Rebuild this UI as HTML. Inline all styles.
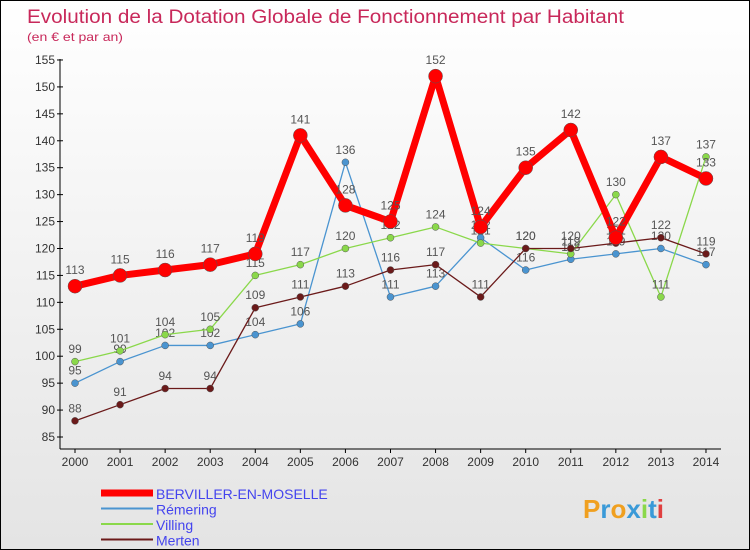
<!DOCTYPE html>
<html><head><meta charset="utf-8"><style>
body{margin:0}
#c{width:748px;height:548px;border:1px solid #000;position:relative;background:linear-gradient(#fff,#e4e4e4);font-family:"Liberation Sans",sans-serif;overflow:hidden}
</style></head><body>
<div id="c">
<svg id="s" width="748" height="548">
<text x="26" y="22" font-size="19" fill="#c8285a" textLength="597" lengthAdjust="spacingAndGlyphs">Evolution de la Dotation Globale de Fonctionnement par Habitant</text>
<text x="26" y="40" font-size="12" fill="#c8285a" textLength="96" lengthAdjust="spacingAndGlyphs">(en € et par an)</text>
</svg>
</div>
<script>
const years=[2000,2001,2002,2003,2004,2005,2006,2007,2008,2009,2010,2011,2012,2013,2014];
const berviller=[113,115,116,117,119,141,128,125,152,124,135,142,122,137,133];
const remering=[95,99,102,102,104,106,136,111,113,122,116,118,119,120,117];
const villing=[99,101,104,105,115,117,120,122,124,121,120,119,130,111,137];
const merten=[88,91,94,94,109,111,113,116,117,111,120,120,121,122,119];
const yTicks=[85,90,95,100,105,110,115,120,125,130,135,140,145,150,155];
const s=document.getElementById('s');const NS='http://www.w3.org/2000/svg';
const X=i=>74+i*45.07, Y=v=>436-(v-85)*5.386;
function mk(t,a,p){const e=document.createElementNS(NS,t);for(const k in a)e.setAttribute(k,a[k]);(p||s).appendChild(e);return e;}
let ax=mk('line',{x1:59,y1:58,x2:59,y2:448,stroke:'#000'});


let bx=mk('line',{x1:59,y1:448,x2:720,y2:448,stroke:'#000'});


yTicks.forEach(v=>{mk('line',{x1:56,y1:Y(v),x2:62,y2:Y(v),stroke:'#000'});
const t=mk('text',{x:54,y:Y(v)+4,'text-anchor':'end','font-size':12,fill:'#333'});t.textContent=v;

});
years.forEach((y,i)=>{mk('line',{x1:X(i),y1:448,x2:X(i),y2:452,stroke:'#000'});
const t=mk('text',{x:X(i),y:465,'text-anchor':'middle','font-size':12,fill:'#333'});t.textContent=y;

});
function series(d,col,w,r,name){
const g=mk('g',{});


mk('polyline',{points:d.map((v,i)=>X(i)+','+Y(v)).join(' '),fill:'none',stroke:col,'stroke-width':w,'stroke-linejoin':'round'},g);
d.forEach((v,i)=>{const c=mk('circle',{cx:X(i),cy:Y(v),r:r,fill:col,stroke:'#555','stroke-width':0.5},g);


const t=mk('text',{x:X(i),y:Y(v)-(r+5),'text-anchor':'middle','font-size':12,fill:'#555'},g);t.textContent=v;});
}
series(remering,'#4a94d0',1.3,3.5,'remering-series');
series(villing,'#8ad84a',1.3,3.5,'villing-series');
series(merten,'#6b1a1a',1.3,3.5,'merten-series');
series(berviller,'#f00',7,7,'berviller-series');
const leg=[['BERVILLER-EN-MOSELLE','#f00',7],['Rémering','#4a94d0',2],['Villing','#8ad84a',2],['Merten','#6b1a1a',2]];
leg.forEach((l,i)=>{const y=492+i*15.5;
mk('line',{x1:100,y1:y,x2:152,y2:y,stroke:l[1],'stroke-width':l[2]});
const t=mk('text',{x:155,y:y+6,'font-size':14,fill:'#4444ee'});t.textContent=l[0];

});
const lg=mk('text',{x:582,y:517,'font-size':26,'font-weight':'bold',fill:'#3a9ad8'});


lg.innerHTML='<tspan fill="#f0a020">P</tspan><tspan fill="#3a9ad8">r</tspan><tspan fill="#f0a020">o</tspan><tspan fill="#3a9ad8">x</tspan><tspan fill="#8ad84a">i</tspan><tspan fill="#3a9ad8">t</tspan><tspan fill="#e04040">i</tspan>';
</script>
</body></html>
